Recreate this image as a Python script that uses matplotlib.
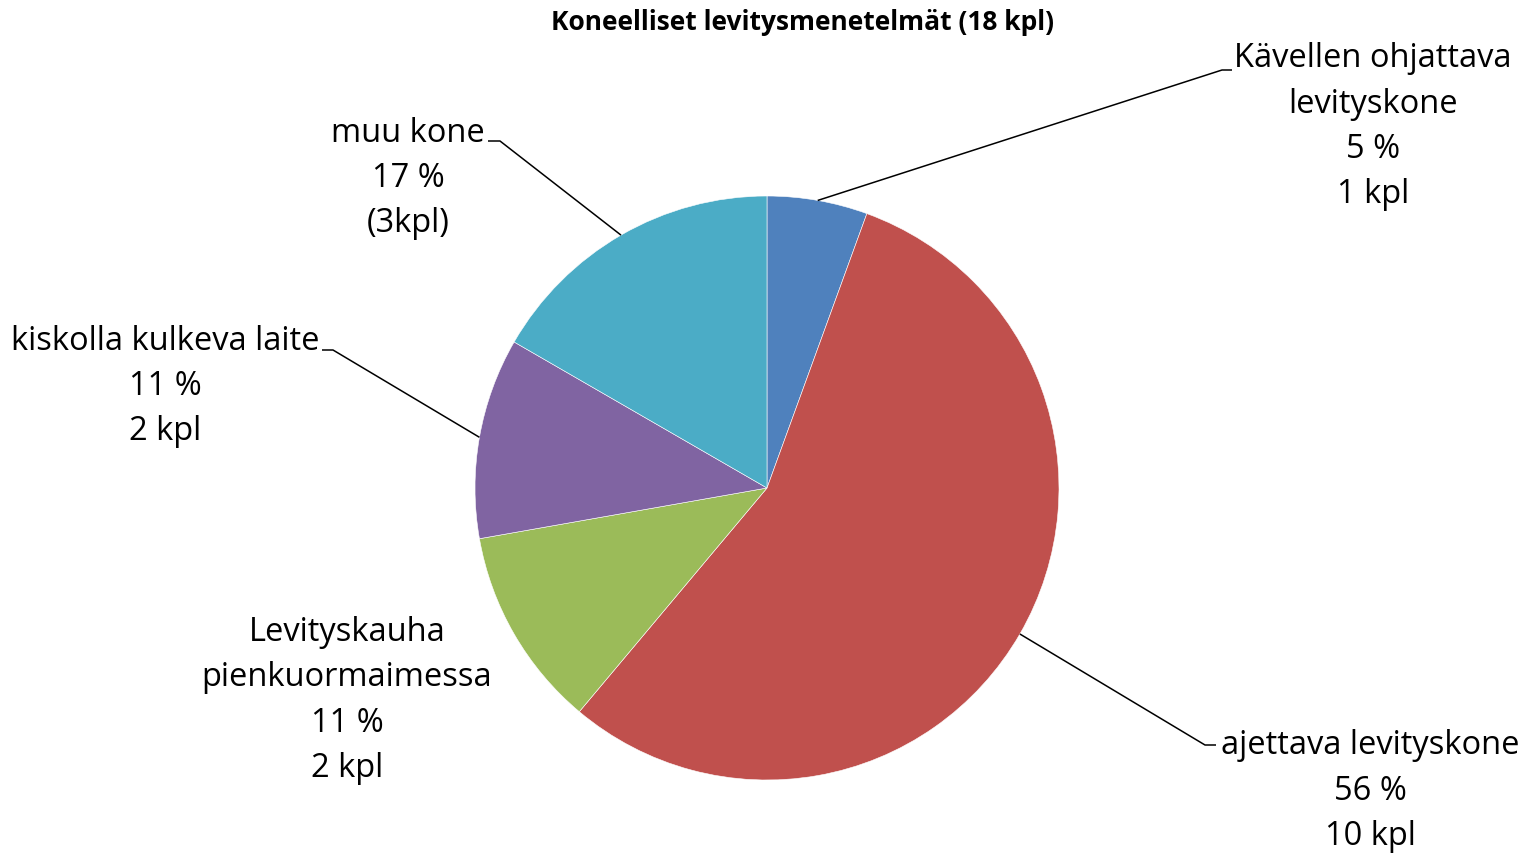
import numpy as np
import matplotlib
matplotlib.use("Agg")
import matplotlib.pyplot as plt

plt.rcParams['font.family'] = ['Open Sans', 'DejaVu Sans']

title = "Koneelliset levitysmenetelmät (18 kpl)"
categories = ["Kävellen ohjattava\nlevityskone", "ajettava levityskone",
              "Levityskauha\npienkuormaimessa", "kiskolla kulkeva laite", "muu kone"]
counts = [1, 10, 2, 2, 3]
percents = ["5 %", "56 %", "11 %", "11 %", "17 %"]
count_labels = ["1 kpl", "10 kpl", "2 kpl", "2 kpl", "(3kpl)"]
colors = ["#4F81BD", "#C0504D", "#9BBB59", "#8064A2", "#4BACC6"]

W, H = 1530, 855
fig = plt.figure(figsize=(W / 100, H / 100), dpi=100)
ax = fig.add_axes([0, 0, 1, 1])

cx, cy, R = 767, H - 488, 292
wedges, _ = ax.pie(counts, colors=colors, startangle=90, counterclock=False,
                   center=(cx, cy), radius=R, frame=True,
                   wedgeprops=dict(edgecolor='white', linewidth=0.4))
ax.set_xlim(0, W)
ax.set_ylim(0, H)
ax.set_aspect('equal')
ax.axis('off')

# label block center x and last-line baseline (pixel coords), leader elbows
label_pos = [(1373, 203), (1370, 845), (347, 777), (165, 440), (408, 232)]
elbows = [((1222, 70), (1232, 70)), ((1205, 745), (1216, 745)), None,
          ((333, 350), (322, 350)), ((500, 141), (488, 141))]

for i, w in enumerate(wedges):
    txt = f"{categories[i]}\n{percents[i]}\n{count_labels[i]}"
    x, y = label_pos[i]
    ax.text(x, H - y, txt, ha='center', va='baseline', fontsize=23.5,
            linespacing=1.49, color='black', multialignment='center')
    if elbows[i] is not None:
        ang = np.deg2rad((w.theta1 + w.theta2) / 2)
        px, py = cx + R * np.cos(ang), cy + R * np.sin(ang)
        (ex, ey), (fx, fy) = elbows[i]
        ax.plot([px, ex, fx], [py, H - ey, H - fy], color='black', lw=1.1,
                solid_capstyle='butt')

ax.text(803, H - 22, title, ha='center', va='center', fontsize=19,
        fontweight='bold')

fig.savefig("out.png", dpi=100)
